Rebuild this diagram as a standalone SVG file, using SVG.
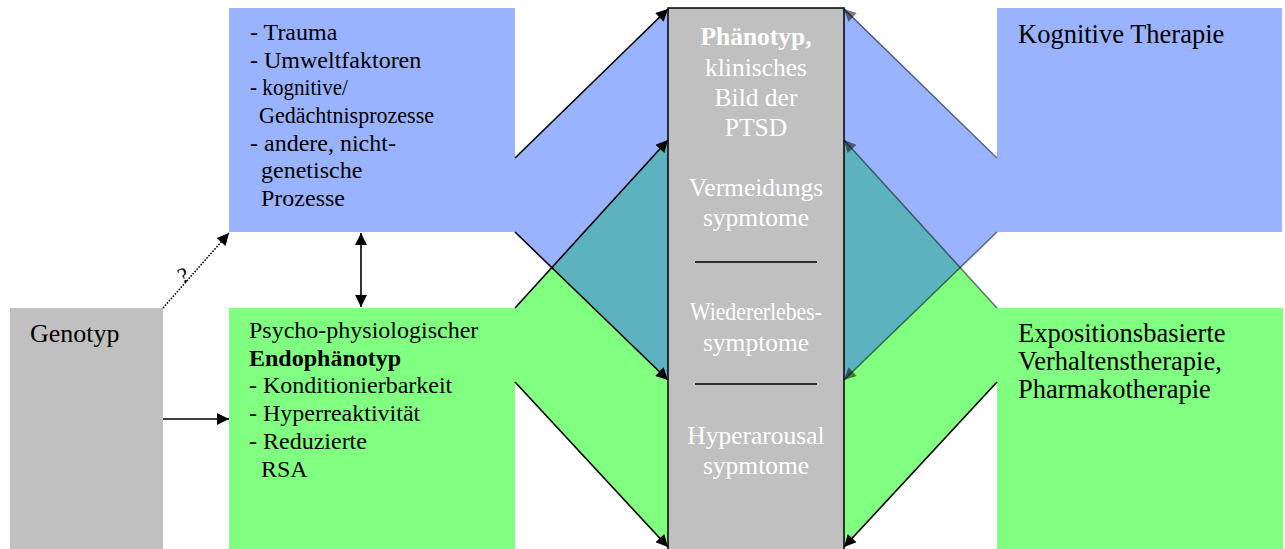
<svg xmlns="http://www.w3.org/2000/svg" width="1285" height="549" viewBox="0 0 1285 549">
<style>
.t{font-family:"Liberation Serif","Times New Roman",serif;font-size:24px;fill:#000}
.tb{font-weight:bold}
.w{fill:#fff;text-anchor:middle;font-size:25.5px}
.r{font-size:26.5px}
.ln{stroke:#000;stroke-width:1.6;fill:none}
.lg{stroke:#000;stroke-opacity:0.5;stroke-width:1.6;fill:none}
.blue{fill:#99B3FF}
.green{fill:#80FF80}
.gray{fill:#C0C0C0}
.teal{fill:#5CB3BF}
</style>
<defs>
<marker id="ah" viewBox="0 0 10 10" refX="10" refY="5" markerWidth="15" markerHeight="12" markerUnits="userSpaceOnUse" orient="auto-start-reverse"><path d="M0,0 L10,5 L0,10 z" fill="#000"/></marker>
<marker id="ahg" viewBox="0 0 10 10" refX="10" refY="5" markerWidth="15" markerHeight="12" markerUnits="userSpaceOnUse" orient="auto"><path d="M0,0 L10,5 L0,10 z" fill="#000" fill-opacity="0.5"/></marker>
</defs>

<g id="fills">
<polygon class="blue" points="515,158 668,8 668,380 515,232"/>
<polygon class="green" points="515,308 668,140 668,548 515,382"/>
<polygon class="teal" points="551.8,267.6 668,140 668,380"/>
<polygon class="blue" points="997,158 844,8 844,380 997,232"/>
<polygon class="green" points="997,308 844,140 844,548 997,382"/>
<polygon class="teal" points="960.2,267.6 844,140 844,380"/>
</g>

<g id="genotyp">
<rect class="gray" x="10" y="308" width="153" height="245"/>
<text class="t" x="30" y="342" style="font-size:26px">Genotyp</text>
</g>

<g id="umwelt">
<rect class="blue" x="229" y="8" width="286" height="224"/>
<text class="t" x="250" y="40">- Trauma</text>
<text class="t" x="250" y="68">- Umweltfaktoren</text>
<text class="t" x="250" y="95" textLength="98" lengthAdjust="spacingAndGlyphs">- kognitive/</text>
<text class="t" x="259" y="123" textLength="175" lengthAdjust="spacingAndGlyphs">Gedächtnisprozesse</text>
<text class="t" x="250" y="151">- andere, nicht-</text>
<text class="t" x="261" y="178">genetische</text>
<text class="t" x="261" y="206">Prozesse</text>
</g>

<g id="endophaenotyp">
<rect class="green" x="229" y="308" width="286" height="245"/>
<text class="t" x="249" y="338">Psycho-physiologischer</text>
<text class="t tb" x="249" y="366">Endophänotyp</text>
<text class="t" x="249" y="393">- Konditionierbarkeit</text>
<text class="t" x="249" y="421">- Hyperreaktivität</text>
<text class="t" x="249" y="449">- Reduzierte</text>
<text class="t" x="261" y="477">RSA</text>
</g>

<g id="phaenotyp">
<rect class="gray" x="668" y="8" width="176" height="560" stroke="#000" stroke-width="1.5"/>
<text class="t w tb" x="756" y="45">Phänotyp,</text>
<text class="t w" x="756" y="76">klinisches</text>
<text class="t w" x="756" y="106">Bild der</text>
<text class="t w" x="756" y="136">PTSD</text>
<text class="t w" x="756" y="196">Vermeidungs</text>
<text class="t w" x="756" y="226">sypmtome</text>
<line class="ln" x1="695" y1="262" x2="817" y2="262"/>
<text class="t w" x="756" y="320" textLength="132" lengthAdjust="spacingAndGlyphs">Wiedererlebes-</text>
<text class="t w" x="756" y="351">symptome</text>
<line class="ln" x1="695" y1="384" x2="817" y2="384"/>
<text class="t w" x="756" y="444">Hyperarousal</text>
<text class="t w" x="756" y="474">sypmtome</text>
</g>

<g id="kognitive">
<rect class="blue" x="997" y="8" width="285" height="224"/>
<text class="t r" x="1018" y="43">Kognitive Therapie</text>
</g>

<g id="exposition">
<rect class="green" x="997" y="308" width="286" height="245"/>
<text class="t r" x="1018" y="342">Expositionsbasierte</text>
<text class="t r" x="1018" y="370">Verhaltenstherapie,</text>
<text class="t r" x="1018" y="398">Pharmakotherapie</text>
</g>

<g id="connectors">
<line class="ln" x1="163" y1="419" x2="229" y2="419" marker-end="url(#ah)"/>
<line class="ln" x1="163" y1="308" x2="229" y2="233" stroke-dasharray="1.5,1.5" stroke-width="1.2" marker-end="url(#ah)"/>
<text class="t" x="0" y="0" style="font-size:22px" transform="translate(182,284) rotate(-25)">?</text>
<line class="ln" x1="361" y1="233" x2="361" y2="307" marker-start="url(#ah)" marker-end="url(#ah)"/>
<line class="ln" x1="515" y1="158" x2="668" y2="9" marker-end="url(#ah)"/>
<line class="ln" x1="515" y1="308" x2="668" y2="140" marker-end="url(#ah)"/>
<line class="ln" x1="515" y1="232" x2="668" y2="380" marker-end="url(#ah)"/>
<line class="ln" x1="515" y1="382" x2="668" y2="547" marker-end="url(#ah)"/>
<line class="lg" x1="997" y1="158" x2="844" y2="9" marker-end="url(#ahg)"/>
<line class="lg" x1="997" y1="308" x2="844" y2="140" marker-end="url(#ahg)"/>
<line class="lg" x1="997" y1="232" x2="844" y2="380" marker-end="url(#ahg)"/>
<line class="ln" x1="997" y1="382" x2="844" y2="547" marker-end="url(#ah)"/>
</g>
</svg>
